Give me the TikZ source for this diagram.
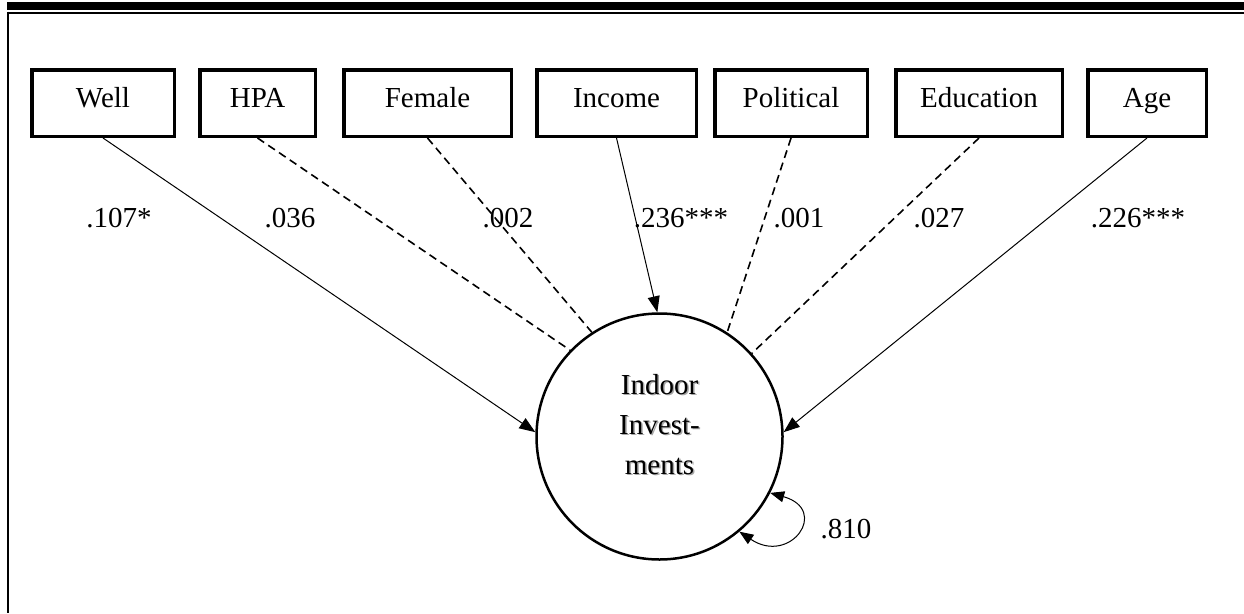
\documentclass[tikz,border=0pt]{standalone}
\usepackage{fontspec}
\setmainfont{Liberation Serif}
\usetikzlibrary{arrows.meta}
\begin{document}
\begin{tikzpicture}[x=1pt,y=-1pt,
  every node/.style={font=\fontsize{29}{40}\selectfont},
  varbox/.style={draw,line width=3.5pt,minimum height=66.5pt,inner sep=0pt,
                 text height=20pt,text depth=12pt},
  latent/.style={draw,circle,line width=2.5pt,minimum size=246pt,inner sep=0pt},
  coef/.style={anchor=base,inner sep=0pt},
  sig/.style={line width=1pt,-{Triangle[length=16pt,width=12pt]}},
  nonsig/.style={line width=1.6pt,dash pattern=on 8pt off 5pt},
  resid/.style={line width=1pt,{Triangle[length=14pt,width=11pt]}-{Triangle[length=14pt,width=11pt]}}]
  \useasboundingbox (0,0) rectangle (1244,613);

  % frame rules
  \fill (7,1.5) rectangle (1244,10);
  \draw[line width=2pt] (7,12.5) -- (1244,12.5);
  \draw[line width=2.2pt] (8,11.5) -- (8,613);

  % observed variables
  \node[varbox,minimum width=142.5pt] (well) at (103,103) {Well};
  \node[varbox,minimum width=115.5pt] (hpa) at (257.5,103) {HPA};
  \node[varbox,minimum width=167.5pt] (female) at (427.5,103) {Female};
  \node[varbox,minimum width=159.5pt] (income) at (616.5,103) {Income};
  \node[varbox,minimum width=152.5pt] (political) at (791,103) {Political};
  \node[varbox,minimum width=166.5pt] (education) at (979,103) {Education};
  \node[varbox,minimum width=118.5pt] (age) at (1147,103) {Age};

  % latent outcome with its soft text shadow
  \node[latent] (ind) at (659.5,436.5) {};
  \node[align=center,inner sep=0pt,text=black!35] (ind-s) at (661,426) {Indoor\\Invest-\\ments};
  \node[align=center,inner sep=0pt] (ind-t) at (659.5,424.5) {Indoor\\Invest-\\ments};

  % paths
  \draw[sig] (well.south) -- (ind.178);
  \draw[nonsig] (hpa.south) -- (ind.136);
  \draw[nonsig] (female.south) -- (ind.123);
  \draw[sig] (income.south) -- (ind.91);
  \draw[nonsig] (political.south) -- (ind.57);
  \draw[nonsig] (education.south) -- (ind.42);
  \draw[sig] (age.south) -- (ind.2);

  % residual variance
  \draw[resid] (ind.-50) .. controls +(51,34) and +(60,17) .. (ind.-27);

  % coefficients
  \node[coef] (b-well) at (119,227) {.107*};
  \node[coef] (b-hpa) at (290,227) {.036};
  \node[coef] (b-female) at (508,227) {.002};
  \node[coef] (b-income) at (681,227) {.236***};
  \node[coef] (b-political) at (799,227) {.001};
  \node[coef] (b-education) at (939,227) {.027};
  \node[coef] (b-age) at (1138,227) {.226***};
  \node[coef] (b-resid) at (846,538) {.810};
\end{tikzpicture}
\end{document}
